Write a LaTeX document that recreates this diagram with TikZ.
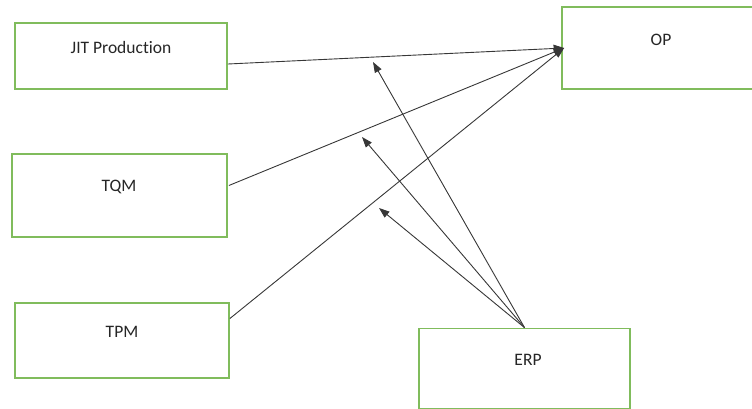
\documentclass[tikz,border=0pt]{standalone}
\usepackage{fontspec}
\setmainfont[Ligatures={NoCommon}]{Carlito}
\usetikzlibrary{arrows.meta,calc}
\definecolor{boxgreen}{RGB}{128,188,92}
\definecolor{linegray}{RGB}{55,55,55}
\begin{document}
\begin{tikzpicture}[x=1pt,y=-1pt,
  box/.style={draw=boxgreen,line width=1.8pt,fill=white,inner sep=0pt},
  lbl/.style={font=\fontsize{17.5}{20}\selectfont,text=black!85,anchor=center},
  conn/.style={draw=linegray,line width=0.9pt,-{Triangle[length=10.5pt,width=7.5pt]}}]
\useasboundingbox (0,0) rectangle (752,408);
% boxes
\node[box,minimum width=212pt,minimum height=66pt] (jit) at (121,56) {};
\node[box,minimum width=215pt,minimum height=83pt] (tqm) at (119.5,195.5) {};
\node[box,minimum width=214pt,minimum height=75pt] (tpm) at (122,340.5) {};
\node[box,minimum width=204pt,minimum height=82pt] (op) at (664,48) {};
\node[box,minimum width=211pt,minimum height=80pt] (erp) at (524.5,368.5) {};
% labels
\node[lbl] (jitl) at (121,47) {JIT Production};
\node[lbl] (tqml) at (119,187) {TQM};
\node[lbl] (tpml) at (122,332) {TPM};
\node[lbl] (opl) at (661,40) {OP};
\node[lbl] (erpl) at (528,360) {ERP};
% free ends of ERP arrows
\coordinate (m1) at (373,62);
\coordinate (m2) at (362,137);
\coordinate (m3) at (379,208);
% connectors
\draw[conn] ($(jit.east)+(0,8)$) -- ($(op.west)+(3,0)$);
\draw[conn] ($(tqm.east)+(1,-10)$) -- ($(op.west)+(3,0)$);
\draw[conn] ($(tpm.east)+(0,-22)$) -- ($(op.west)+(3,0)$);
\draw[conn] (erp.north) -- (m1);
\draw[conn] (erp.north) -- (m2);
\draw[conn] (erp.north) -- (m3);
\end{tikzpicture}
\end{document}
